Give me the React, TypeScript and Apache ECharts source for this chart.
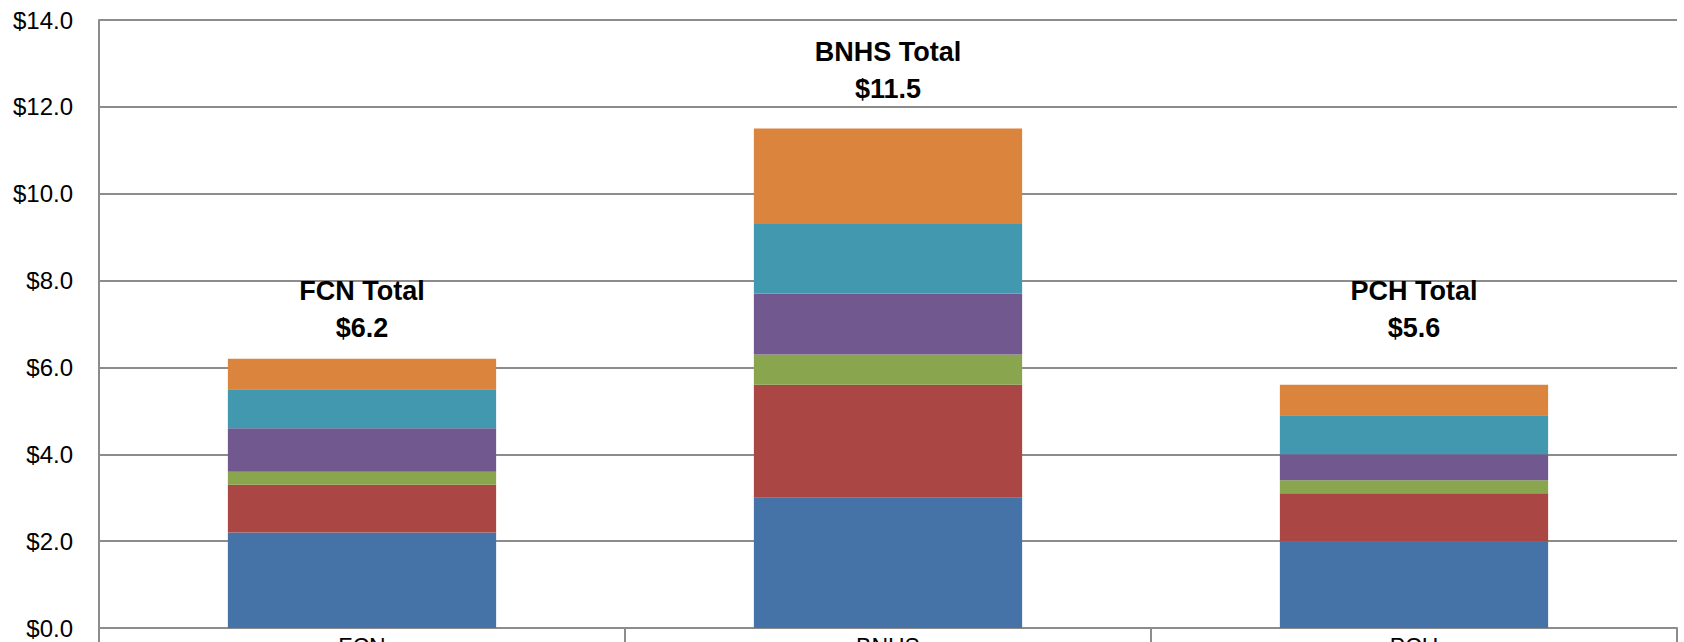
import React, { useEffect, useRef } from "react";
import * as echarts from "echarts";

const categories = ["FCN", "BNHS", "PCH"];
const seriesNames = ["Segment 1", "Segment 2", "Segment 3", "Segment 4", "Segment 5", "Segment 6"];
const seg1 = [2.2, 3.0, 2.0];
const seg2 = [1.1, 2.6, 1.1];
const seg3 = [0.3, 0.7, 0.3];
const seg4 = [1.0, 1.4, 0.6];
const seg5 = [0.9, 1.6, 0.9];
const seg6 = [0.7, 2.2, 0.7];
const yTicks = [0, 2, 4, 6, 8, 10, 12, 14];

const colors = ["#4572A7", "#AA4643", "#89A54E", "#71588F", "#4198AF", "#DB843D"];
const labelDistances = [12, 21, 38];

export default function App() {
  const ref = useRef<HTMLDivElement>(null);
  useEffect(() => {
    if (!ref.current) return;
    const chart = echarts.init(ref.current, null, { renderer: "svg" });
    const segs = [seg1, seg2, seg3, seg4, seg5, seg6];
    const totals = categories.map((_, i) => segs.reduce((s, a) => s + a[i], 0));
    const series: any[] = segs.map((arr, si) => ({
      name: seriesNames[si],
      type: "bar",
      stack: "total",
      barWidth: "51%",
      itemStyle: { color: colors[si] },
      data: arr.map((v, i) => {
        if (si !== segs.length - 1) return v;
        return {
          value: v,
          label: {
            show: true,
            position: "top",
            distance: labelDistances[i],
            formatter: `${categories[i]} Total\n$${totals[i].toFixed(1)}`,
            fontFamily: "Liberation Sans",
            fontWeight: "bold",
            fontSize: 27,
            lineHeight: 37,
            color: "#000",
            align: "center",
          },
        };
      }),
    }));
    chart.setOption({
      animation: false,
      backgroundColor: "#fff",
      grid: {
        left: 99,
        top: 20,
        right: 7,
        bottom: 14,
        containLabel: false,
        outerBoundsMode: "none",
      },
      xAxis: {
        type: "category",
        data: categories,
        boundaryGap: true,
        axisLine: { show: true, lineStyle: { color: "#8c8c8c", width: 2 } },
        axisTick: { show: true, length: 16, lineStyle: { color: "#8c8c8c", width: 2 } },
        axisLabel: {
          margin: 7,
          fontFamily: "Liberation Sans",
          fontSize: 23,
          color: "#000",
          verticalAlign: "top",
        },
      },
      yAxis: {
        type: "value",
        min: yTicks[0],
        max: yTicks[yTicks.length - 1],
        interval: 2,
        axisLine: { show: true, lineStyle: { color: "#8c8c8c", width: 2 } },
        axisTick: { show: false },
        splitLine: { show: true, lineStyle: { color: "#8c8c8c", width: 2 } },
        axisLabel: {
          margin: 26,
          fontFamily: "Liberation Sans",
          fontSize: 24,
          color: "#000",
          formatter: (v: number) => "$" + v.toFixed(1),
        },
      },
      series,
    });
    return () => chart.dispose();
  }, []);
  return (
    <div
      ref={ref}
      style={{ position: "fixed", left: 0, top: 0, width: 1684, height: 642, background: "#fff" }}
    />
  );
}
